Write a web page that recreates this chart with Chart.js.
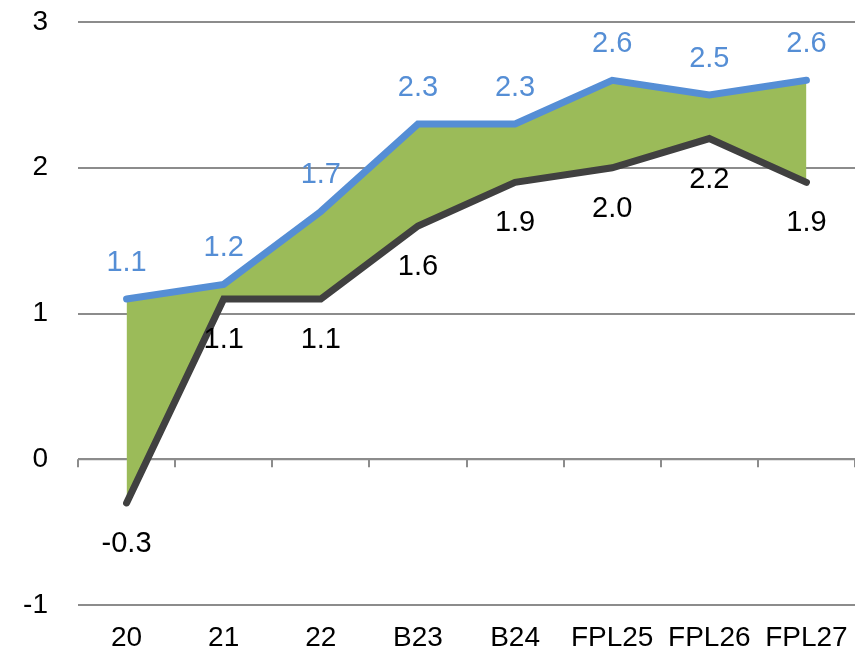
<!DOCTYPE html>
<html lang="en">
<head>
    <meta charset="UTF-8">
    <title>Range chart</title>
    <style>
        body { margin: 0; padding: 0; background: #ffffff; }
        #wrap { width: 855px; height: 654px; }
    </style>
</head>
<body>
    <div id="wrap"><canvas id="rangeChart" width="855" height="654"></canvas></div>

    <script src="https://cdn.jsdelivr.net/npm/chart.js"></script>
    <script>
        // data
        const categories = ['20', '21', '22', 'B23', 'B24', 'FPL25', 'FPL26', 'FPL27'];
        const upperValues = [1.1, 1.2, 1.7, 2.3, 2.3, 2.6, 2.5, 2.6];
        const lowerValues = [-0.3, 1.1, 1.1, 1.6, 1.9, 2.0, 2.2, 1.9];
        const yTicks = [-1, 0, 1, 2, 3];

        const blue = '#558ED5';
        const dark = '#404040';
        const green = '#9BBB59';
        const gridGray = '#8C8C8C';
        const fontFamily = "'Liberation Sans', Arial, sans-serif";

        Chart.defaults.font.family = fontFamily;
        Chart.defaults.font.size = 28;
        Chart.defaults.color = '#000000';

        // category axis line and tick marks sit on the zero line
        const zeroAxis = {
            id: 'zeroAxis',
            beforeDatasetsDraw(chart) {
                const xs = chart.scales.x;
                const y0 = chart.scales.y.getPixelForValue(0);
                const ctx = chart.ctx;
                const half = (xs.getPixelForValue(1) - xs.getPixelForValue(0)) / 2;
                ctx.save();
                ctx.strokeStyle = gridGray;
                ctx.lineWidth = 2;
                ctx.beginPath();
                ctx.moveTo(xs.left, y0);
                ctx.lineTo(xs.right, y0);
                for (let i = 0; i <= categories.length; i++) {
                    const x = Math.round(xs.getPixelForValue(i) - half);
                    ctx.moveTo(x, y0);
                    ctx.lineTo(x, y0 + 8);
                }
                ctx.stroke();
                ctx.restore();
            }
        };

        // value labels: blue above the upper line, black below the lower line
        const valueLabels = {
            id: 'valueLabels',
            afterDatasetsDraw(chart) {
                const ctx = chart.ctx;
                ctx.save();
                ctx.font = '29px ' + fontFamily;
                ctx.textAlign = 'center';
                ctx.textBaseline = 'middle';
                chart.data.datasets.forEach((ds, i) => {
                    const meta = chart.getDatasetMeta(i);
                    meta.data.forEach((pt, j) => {
                        ctx.fillStyle = ds.labelColor;
                        const dy = ds.labelPos === 'above' ? -36 : 41;
                        ctx.fillText(ds.data[j].toFixed(1), pt.x, pt.y + dy);
                    });
                });
                ctx.restore();
            }
        };

        new Chart(document.getElementById('rangeChart'), {
            type: 'line',
            data: {
                labels: categories,
                datasets: [
                    {
                        data: upperValues,
                        borderColor: blue,
                        borderWidth: 7,
                        backgroundColor: green,
                        fill: '+1',
                        pointRadius: 0,
                        borderCapStyle: 'round',
                        order: 1,
                        labelColor: blue,
                        labelPos: 'above'
                    },
                    {
                        data: lowerValues,
                        borderColor: dark,
                        borderWidth: 7,
                        fill: false,
                        pointRadius: 0,
                        borderCapStyle: 'round',
                        order: 0,
                        labelColor: '#000000',
                        labelPos: 'below'
                    }
                ]
            },
            options: {
                responsive: false,
                animation: false,
                layout: { padding: { left: 22, right: 0, top: 22, bottom: 0 } },
                plugins: {
                    legend: { display: false },
                    tooltip: { enabled: false }
                },
                scales: {
                    x: {
                        offset: true,
                        grid: { display: false, drawTicks: false },
                        border: { display: false },
                        ticks: { padding: 16, maxRotation: 0, autoSkip: false },
                        afterFit(scale) {
                            scale.height = 49;
                            scale.paddingLeft = 0;
                            scale.paddingRight = 0;
                        }
                    },
                    y: {
                        min: -1,
                        max: 3,
                        afterBuildTicks(scale) {
                            scale.ticks = yTicks.map(v => ({ value: v }));
                        },
                        grid: { color: gridGray, lineWidth: 2, drawTicks: false },
                        border: { display: false },
                        ticks: { padding: 30 },
                        afterFit(scale) {
                            scale.width = 56;
                            scale.paddingTop = 0;
                            scale.paddingBottom = 0;
                        }
                    }
                }
            },
            plugins: [zeroAxis, valueLabels]
        });
    </script>
</body>
</html>
